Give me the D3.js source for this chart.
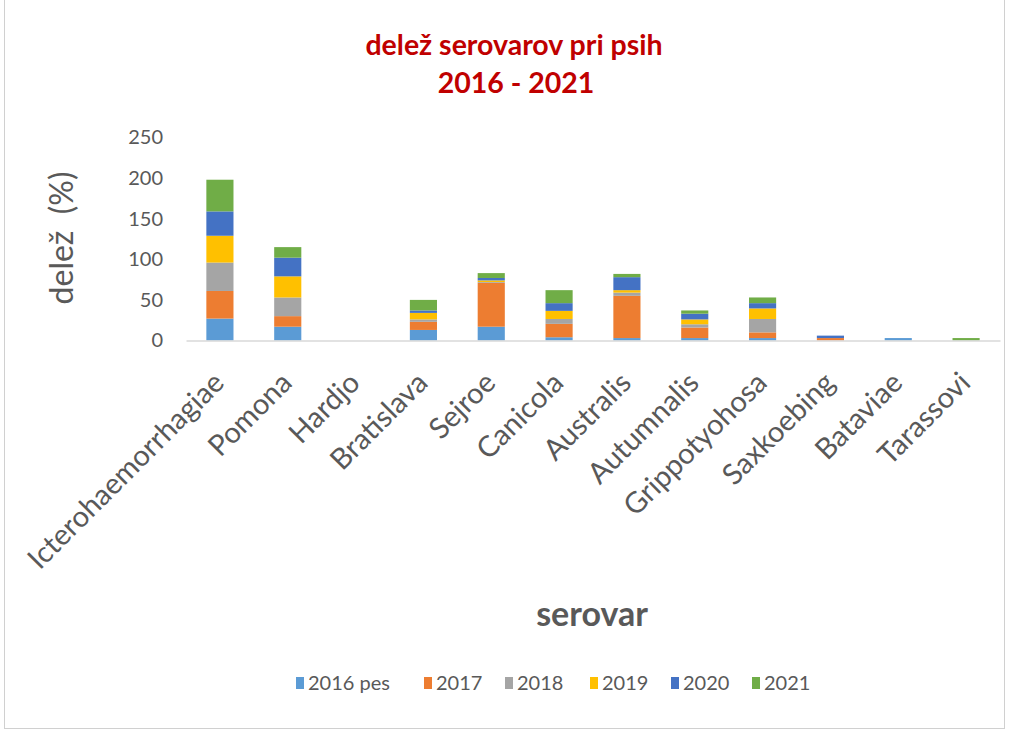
<!DOCTYPE html>
<html>
<head>
<meta charset="utf-8">
<script src="https://cdn.jsdelivr.net/npm/d3@7"></script>
<style>
  html, body { margin: 0; padding: 0; background: #fff; }
  svg { display: block; font-family: Lato, "Open Sans", sans-serif; }
</style>
</head>
<body>
<svg id="chart" width="1019" height="731"></svg>
<script>
// Serovars tested in dogs, shares per year (%)
const categories = ["Icterohaemorrhagiae", "Pomona", "Hardjo", "Bratislava", "Sejroe", "Canicola",
  "Australis", "Autumnalis", "Grippotyohosa", "Saxkoebing", "Bataviae", "Tarassovi"];
const seriesNames = ["2016 pes", "2017", "2018", "2019", "2020", "2021"];
const s2016 = [27, 17, 0, 13, 17, 4, 3, 3, 3, 0, 3, 0];
const s2017 = [34, 13, 0, 10, 54, 16.5, 52, 13, 7, 3, 0, 0];
const s2018 = [35, 23, 0, 3, 1, 6, 4, 4, 16.5, 0, 0, 0];
const s2019 = [33, 26, 0, 8, 2, 10, 3, 6, 13, 0, 0, 0];
const s2020 = [30, 23, 0, 3, 3, 9.5, 16, 7, 6.5, 3, 0, 0];
const s2021 = [39, 13, 0, 13, 6, 16, 4, 4, 7, 0, 0, 3];
const yTicks = [0, 50, 100, 150, 200, 250];
const colors = ["#5B9BD5", "#ED7D31", "#A5A5A5", "#FFC000", "#4472C4", "#70AD47"];

const seriesValues = [s2016, s2017, s2018, s2019, s2020, s2021];
const rows = categories.map((c, i) => {
  const r = { cat: c };
  seriesNames.forEach((n, k) => { r[n] = seriesValues[k][i]; });
  return r;
});

const svg = d3.select("#chart");
const grey = "#595959";

// outer chart frame
svg.append("rect")
  .attr("x", 4.5).attr("y", -1).attr("width", 1000).attr("height", 729.5)
  .attr("fill", "none").attr("stroke", "#d0d0d0").attr("stroke-width", 1);

const x = d3.scaleBand().domain(categories).range([186, 1000]).paddingInner(0.6).paddingOuter(0.3);
const y = d3.scaleLinear().domain([0, 250]).range([340.5, 137.5]);

const stack = d3.stack().keys(seriesNames)(rows);

svg.append("g").selectAll("g")
  .data(stack)
  .join("g")
  .attr("fill", (d, i) => colors[i])
  .selectAll("rect")
  .data(d => d)
  .join("rect")
  .attr("x", d => x(d.data.cat))
  .attr("width", x.bandwidth())
  .attr("y", d => y(d[1]))
  .attr("height", d => y(d[0]) - y(d[1]));

// y axis: labels only
const yAxis = svg.append("g")
  .attr("transform", "translate(166,0)")
  .call(d3.axisLeft(y).tickValues(yTicks).tickSize(0).tickPadding(3));
yAxis.select(".domain").remove();
yAxis.selectAll("text")
  .attr("font-family", "Lato, sans-serif")
  .attr("font-size", 20).attr("fill", grey);

// x axis line and rotated category labels
const xAxis = svg.append("g")
  .attr("transform", "translate(0,340.5)")
  .call(d3.axisBottom(x).tickSize(0).tickPadding(0));
xAxis.select(".domain").attr("stroke", "#d9d9d9").attr("stroke-width", 1.5);
xAxis.selectAll("text")
  .attr("font-family", "Lato, sans-serif")
  .attr("font-size", 29).attr("fill", grey)
  .attr("text-anchor", "end")
  .attr("dy", 0).attr("y", 0)
  .attr("transform", "translate(6,44) rotate(-45)");

// titles
const title = svg.append("text")
  .attr("text-anchor", "middle")
  .attr("font-weight", "bold").attr("font-size", 28.5).attr("fill", "#C00000");
title.append("tspan").attr("x", 514).attr("y", 55).text("delež serovarov pri psih");
title.append("tspan").attr("x", 516).attr("y", 93).text("2016 - 2021");

svg.append("text")
  .attr("transform", "translate(73,238) rotate(-90)")
  .attr("text-anchor", "middle")
  .attr("font-size", 32).attr("fill", grey)
  .attr("xml:space", "preserve")
  .text("delež  (%)");

svg.append("text")
  .attr("x", 592).attr("y", 626)
  .attr("text-anchor", "middle")
  .attr("font-weight", "bold").attr("font-size", 34).attr("fill", grey)
  .text("serovar");

// legend
const legendX = [296, 424, 505, 590, 671, 752];
const legend = svg.append("g").selectAll("g")
  .data(seriesNames)
  .join("g")
  .attr("transform", (d, i) => `translate(${legendX[i]},677)`);
legend.append("rect").attr("width", 8).attr("height", 12).attr("fill", (d, i) => colors[i]);
legend.append("text")
  .attr("x", 12).attr("y", 13)
  .attr("font-size", 20).attr("fill", grey)
  .text(d => d);
</script>
</body>
</html>
